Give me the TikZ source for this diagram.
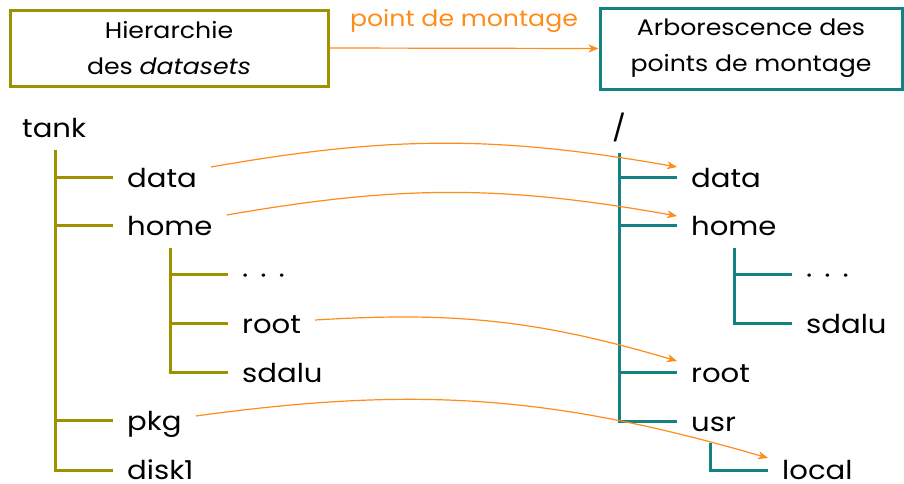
\documentclass[tikz,border=0pt]{standalone}
\usepackage{fontspec}
\setmainfont{Poppins}[FakeStretch=1.12]
\usetikzlibrary{arrows.meta}
\definecolor{olivetree}{HTML}{9C9200}
\definecolor{tealtree}{HTML}{148282}
\definecolor{mountorange}{HTML}{FF8C1A}
\begin{document}
\begin{tikzpicture}[x=1pt,y=-1pt,
  lbl/.style={anchor=base west, inner xsep=14pt, inner ysep=0pt, font=\fontsize{26}{30}\selectfont},
  toplbl/.style={anchor=base west, inner sep=0pt, font=\fontsize{26}{30}\selectfont},
  otree/.style={draw=olivetree, line width=3pt},
  ttree/.style={draw=tealtree, line width=3pt},
  mount/.style={draw=mountorange, line width=1.2pt, -{Stealth[length=10pt,width=8pt,inset=3pt]}},
  titlebox/.style={line width=3pt, align=center, inner sep=0pt, font=\fontsize{22.5}{36}\selectfont}]
\useasboundingbox (0,0) rectangle (904,483);

% title boxes
\node[titlebox, draw=olivetree, minimum width=318pt, minimum height=76pt] (lbox) at (169,48)
  {Hierarchie\\des \textit{datasets}};
\node[titlebox, draw=tealtree, minimum width=302pt, minimum height=81pt] (rbox) at (751,48.5)
  {Arborescence des\\points de montage};
\draw[mount] (lbox.east) -- (rbox.west)
  node[pos=0.5, yshift=27pt, text=mountorange, font=\fontsize{22.5}{26}\selectfont] (mountlbl) {point de montage};

% dataset hierarchy
\node[toplbl] (tank) at (22,137) {tank};
\node[lbl] (ldata) at (113,187) {data};
\node[lbl] (lhome) at (113,235) {home};
\node[lbl] (ldots) at (228,284) {·\hspace{12pt}·\hspace{12pt}·};
\node[lbl] (lroot) at (228,333) {root};
\node[lbl] (lsdalu) at (228,382) {sdalu};
\node[lbl] (lpkg) at (113,430) {pkg};
\node[lbl] (ldisk) at (113,479) {disk1};

\foreach \n in {ldata,lhome,ldots,lroot,lsdalu,lpkg}
  \coordinate (\n-b) at ([yshift=10pt]\n.base west);
\coordinate (ldisk-b) at ([yshift=9pt]ldisk.base west);
\coordinate (ltrunk) at (55,150);
\coordinate (lsub) at (170,248);
\draw[otree] (ltrunk) |- (ldisk-b);
\foreach \n in {ldata,lhome,lpkg}
  \draw[otree] (ltrunk |- \n-b) -- (\n-b);
\draw[otree] (lsub) |- (lsdalu-b);
\foreach \n in {ldots,lroot}
  \draw[otree] (lsub |- \n-b) -- (\n-b);

% mount point tree
\node[toplbl] (slash) at (612,137) {/};
\node[lbl] (rdata) at (677,187) {data};
\node[lbl] (rhome) at (677,235) {home};
\node[lbl] (rdots) at (792,284) {·\hspace{12pt}·\hspace{12pt}·};
\node[lbl] (rsdalu) at (792,333) {sdalu};
\node[lbl] (rroot) at (677,382) {root};
\node[lbl] (rusr) at (677,431) {usr};
\node[lbl] (rlocal) at (768,479) {local};

\foreach \n in {rdata,rhome,rdots,rsdalu,rroot,rusr}
  \coordinate (\n-b) at ([yshift=10pt]\n.base west);
\coordinate (rlocal-b) at ([yshift=9pt]rlocal.base west);
\coordinate (rtrunk) at (619,153);
\coordinate (rsub) at (734,248);
\coordinate (usrsub) at (710,443);
\draw[ttree] (rtrunk) |- (rusr-b);
\foreach \n in {rdata,rhome,rroot}
  \draw[ttree] (rtrunk |- \n-b) -- (\n-b);
\draw[ttree] (rsub) |- (rsdalu-b);
\draw[ttree] (rsub |- rdots-b) -- (rdots-b);
\draw[ttree] (usrsub) |- (rlocal-b);

% mount arrows
\draw[mount] ([yshift=20pt]ldata.base east) to[bend left=10] ([yshift=20pt]rdata.base west);
\draw[mount] ([yshift=20pt]lhome.base east) to[bend left=10] ([yshift=19pt]rhome.base west);
\draw[mount] ([yshift=13pt]lroot.base east) to[bend left=10] ([yshift=21pt]rroot.base west);
\draw[mount] ([yshift=14pt]lpkg.base east) to[bend left=12] ([yshift=21pt]rlocal.base west);
\end{tikzpicture}
\end{document}
